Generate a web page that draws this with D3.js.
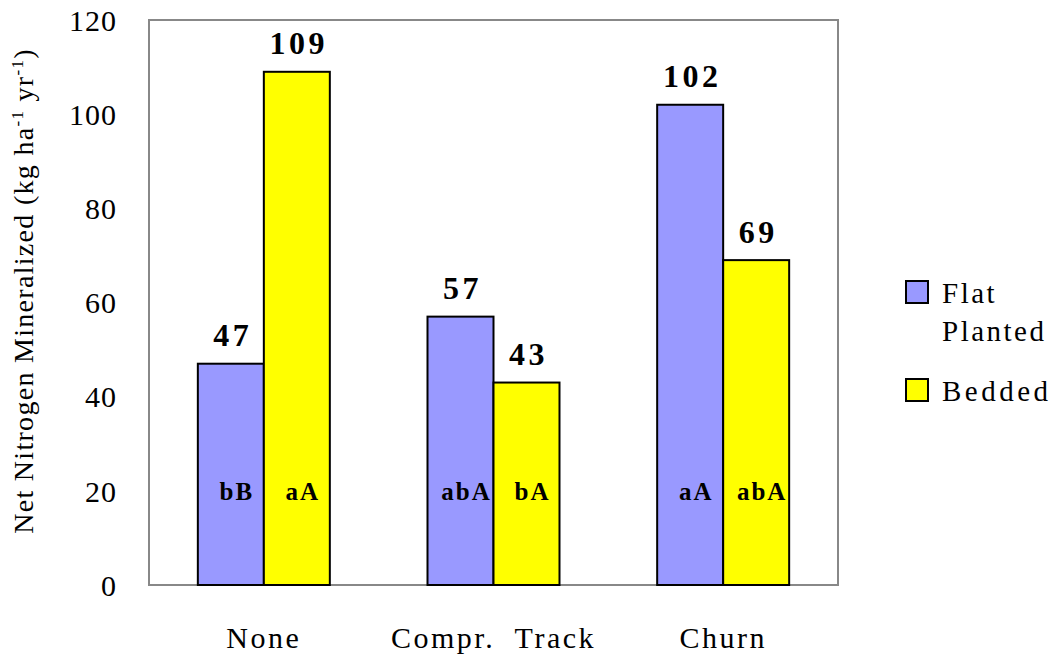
<!DOCTYPE html>
<html>
<head>
<meta charset="utf-8">
<script src="https://cdn.jsdelivr.net/npm/d3@7"></script>
<style>
  html, body { margin: 0; padding: 0; background: #fff; }
  svg { display: block; }
  svg text { font-family: "Times New Roman", "Liberation Serif", Tinos, Times, "DejaVu Serif", serif !important; }
</style>
</head>
<body>
<svg id="chart" width="1055" height="660"></svg>
<script>
const categories = ["None", "Compr.  Track", "Churn"];
const seriesNames = ["Flat Planted", "Bedded"];
const flatValues = [47, 57, 102];
const beddedValues = [109, 43, 69];
const flatLetters = ["bB", "abA", "aA"];
const beddedLetters = ["aA", "bA", "abA"];
const yTicks = [0, 20, 40, 60, 80, 100, 120];
const colors = ["#9999FF", "#FFFF00"];

const svg = d3.select("#chart");
const plot = { left: 149, right: 838, top: 20, bottom: 585 };

const x0 = d3.scaleBand().domain(categories).range([plot.left, plot.right]).padding(0);
const x1 = d3.scaleBand().domain(seriesNames).range([0, x0.bandwidth()]).paddingInner(0).paddingOuter(0.74);
const y = d3.scaleLinear().domain([0, 120]).range([plot.bottom, plot.top]);

// frame
svg.append("rect")
  .attr("x", plot.left).attr("y", plot.top)
  .attr("width", plot.right - plot.left).attr("height", plot.bottom - plot.top)
  .attr("fill", "#fff").attr("stroke", "#888").attr("stroke-width", 2);

// y axis (labels only)
const yAxis = d3.axisLeft(y).tickValues(yTicks).tickSize(0).tickPadding(32);
const gy = svg.append("g").attr("transform", `translate(${plot.left},0)`).call(yAxis);
gy.attr("font-family", null);
gy.select(".domain").remove();
gy.selectAll("text")
  .attr("font-size", 30).attr("fill", "#000")
  .attr("letter-spacing", "1px")
  .attr("dy", "0.34em");

// x axis labels
const xAxis = d3.axisBottom(x0).tickSize(0).tickPadding(0);
const gx = svg.append("g").attr("transform", `translate(0,${plot.bottom})`).call(xAxis);
gx.attr("font-family", null);
gx.select(".domain").remove();
gx.selectAll("text")
  .attr("font-size", 30).attr("fill", "#000")
  .attr("letter-spacing", "2.5px")
  .attr("y", 63).attr("dy", 0)
  .style("white-space", "pre");

// data rows
const rows = categories.map((c, i) => ({
  cat: c,
  vals: [
    { s: seriesNames[0], v: flatValues[i], l: flatLetters[i], c: colors[0] },
    { s: seriesNames[1], v: beddedValues[i], l: beddedLetters[i], c: colors[1] }
  ]
}));

const groups = svg.selectAll("g.grp").data(rows).join("g")
  .attr("class", "grp")
  .attr("transform", d => `translate(${x0(d.cat)},0)`);

groups.selectAll("rect").data(d => d.vals).join("rect")
  .attr("x", d => x1(d.s))
  .attr("y", d => y(d.v))
  .attr("width", x1.bandwidth())
  .attr("height", d => y(0) - y(d.v))
  .attr("fill", d => d.c)
  .attr("stroke", "#000").attr("stroke-width", 2);

groups.selectAll("text.val").data(d => d.vals).join("text")
  .attr("class", "val")
  .attr("x", d => x1(d.s) + x1.bandwidth() / 2 + 2)
  .attr("y", d => y(d.v) - 17.5)
  .attr("text-anchor", "middle")
  .attr("font-weight", "bold").attr("font-size", 32)
  .attr("letter-spacing", "3.5px")
  .text(d => d.v);

groups.selectAll("text.let").data(d => d.vals).join("text")
  .attr("class", "let")
  .attr("x", d => x1(d.s) + x1.bandwidth() / 2 + 6)
  .attr("y", y(20) + 9)
  .attr("text-anchor", "middle")
  .attr("font-weight", "bold").attr("font-size", 25)
  .attr("letter-spacing", "2px")
  .text(d => d.l);

// y title
const title = svg.append("text")
  .attr("transform", `translate(33,291) rotate(-90)`)
  .attr("text-anchor", "middle")
  .attr("font-size", 28)
  .attr("letter-spacing", "1.3px");
title.append("tspan").text("Net Nitrogen Mineralized (kg ha");
title.append("tspan").attr("dy", -10).attr("font-size", 17).text("-1");
title.append("tspan").attr("dy", 10).text(" yr");
title.append("tspan").attr("dy", -10).attr("font-size", 17).text("-1");
title.append("tspan").attr("dy", 10).text(")");

// legend
const legendItems = [
  { name: ["Flat", "Planted"], c: colors[0], y: 281, ls: 2.5 },
  { name: ["Bedded"], c: colors[1], y: 379, ls: 3.5 }
];
const lg = svg.selectAll("g.leg").data(legendItems).join("g").attr("class", "leg");
lg.append("rect")
  .attr("x", 906).attr("y", d => d.y)
  .attr("width", 22).attr("height", 22)
  .attr("fill", d => d.c).attr("stroke", "#000").attr("stroke-width", 2);
lg.each(function(d) {
  const t = d3.select(this).append("text")
    .attr("x", 942).attr("y", d.y + 22)
    .attr("font-size", 29).attr("letter-spacing", d.ls + "px");
  d.name.forEach((n, i) => {
    t.append("tspan").attr("x", 942).attr("dy", i === 0 ? 0 : 38).text(n);
  });
});
</script>
</body>
</html>
